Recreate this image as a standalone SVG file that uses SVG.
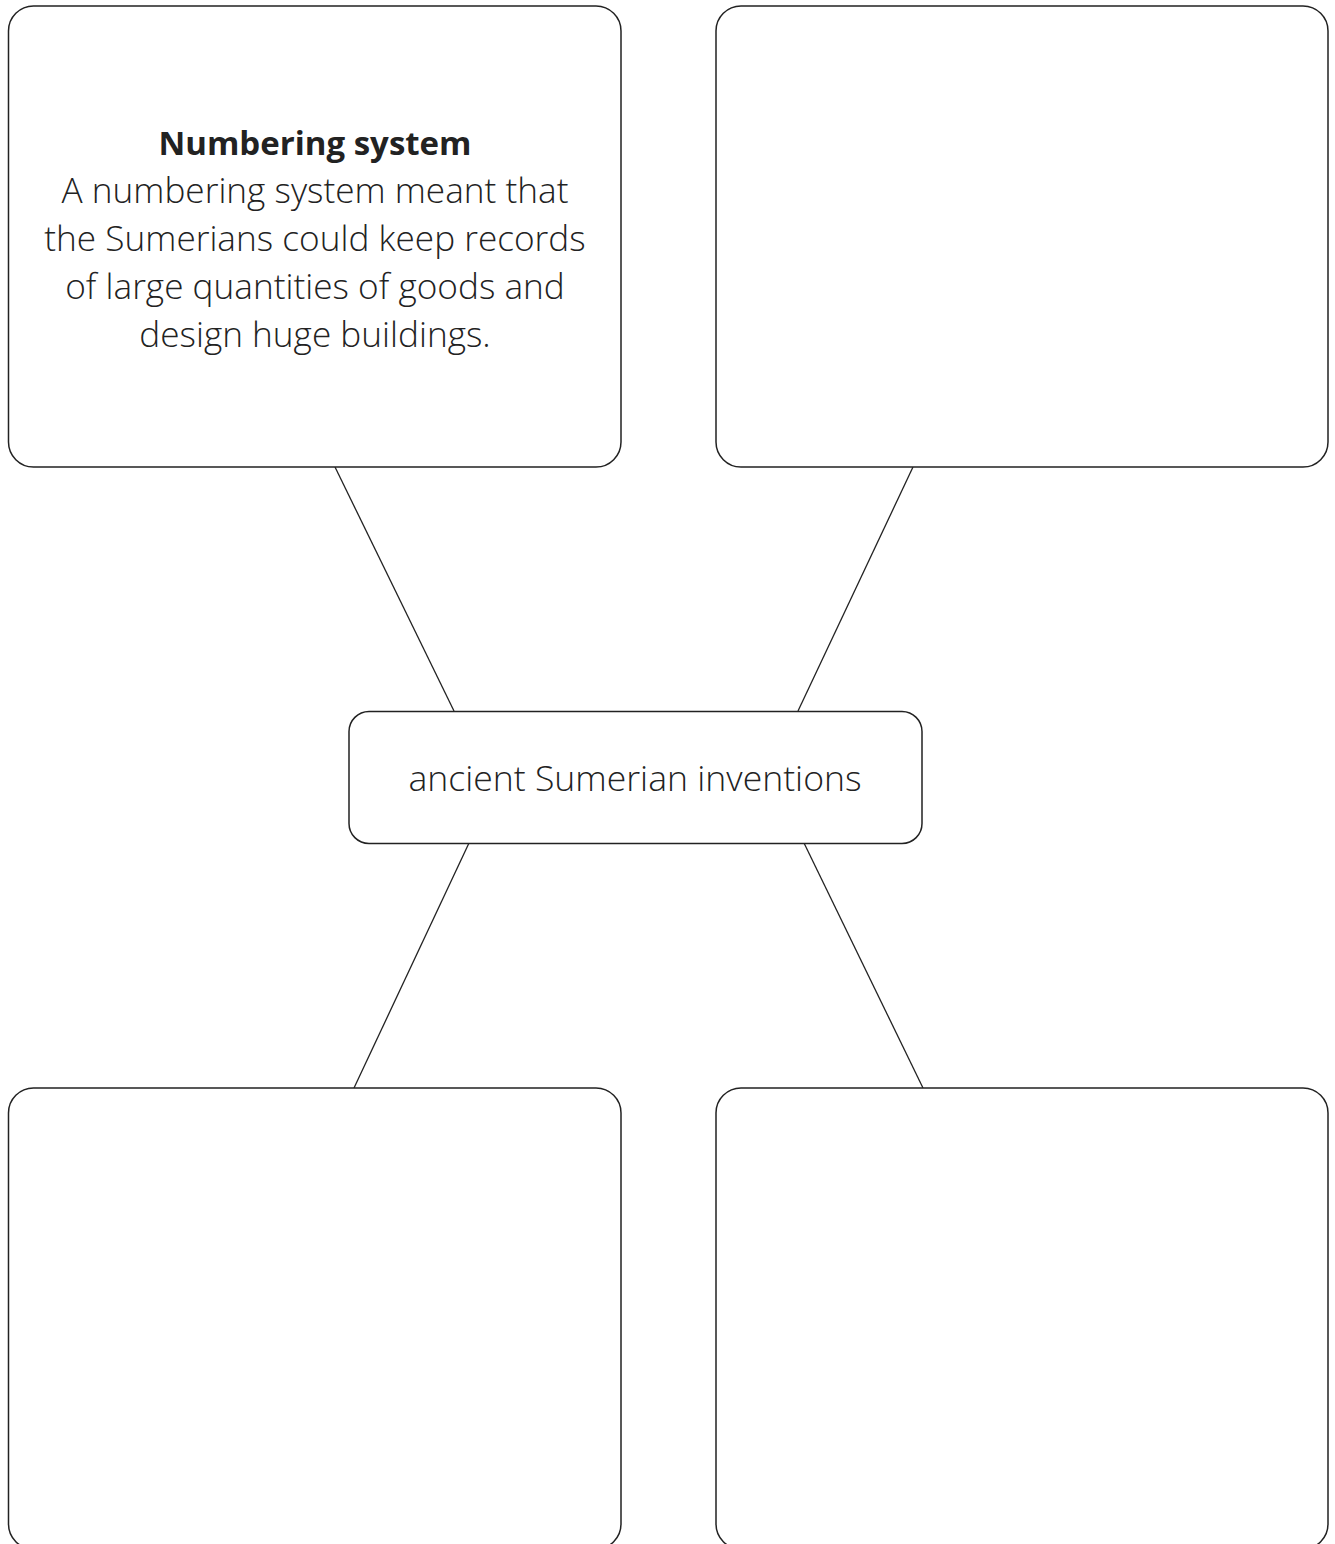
<svg xmlns="http://www.w3.org/2000/svg" width="1335" height="1544" viewBox="0 0 1335 1544">
<style>
.box{fill:#fff;stroke:#222;stroke-width:1.5}
.con{stroke:#222;stroke-width:1.3;fill:none}
.t{font-family:"Open Sans","Liberation Sans",sans-serif;font-weight:300;font-size:35.2px;fill:#222;text-anchor:middle}
.b{font-weight:700;font-size:33px}
</style>
<rect width="1335" height="1544" fill="#fff"/>
<g id="connectors">
<line class="con" x1="335" y1="467" x2="454" y2="711"/>
<line class="con" x1="913" y1="467" x2="798" y2="711"/>
<line class="con" x1="469" y1="843" x2="354" y2="1088"/>
<line class="con" x1="804" y1="843" x2="923" y2="1088"/>
</g>
<g id="node-numbering">
<rect class="box" x="8.5" y="6" width="612.5" height="461" rx="25"/>
<text class="t b" x="315" y="155">Numbering system</text>
<text class="t" x="315" y="203">A numbering system meant that</text>
<text class="t" x="315" y="251">the Sumerians could keep records</text>
<text class="t" x="315" y="299">of large quantities of goods and</text>
<text class="t" x="315" y="347">design huge buildings.</text>
</g>
<g id="node-top-right">
<rect class="box" x="716" y="6" width="612" height="461" rx="25"/>
</g>
<g id="node-center">
<rect class="box" x="349" y="711.5" width="573" height="132" rx="20"/>
<text class="t" x="635" y="791" style="font-size:35.6px">ancient Sumerian inventions</text>
</g>
<g id="node-bottom-left">
<rect class="box" x="8.5" y="1088" width="612.5" height="461" rx="25"/>
</g>
<g id="node-bottom-right">
<rect class="box" x="716" y="1088" width="612" height="461" rx="25"/>
</g>
</svg>
